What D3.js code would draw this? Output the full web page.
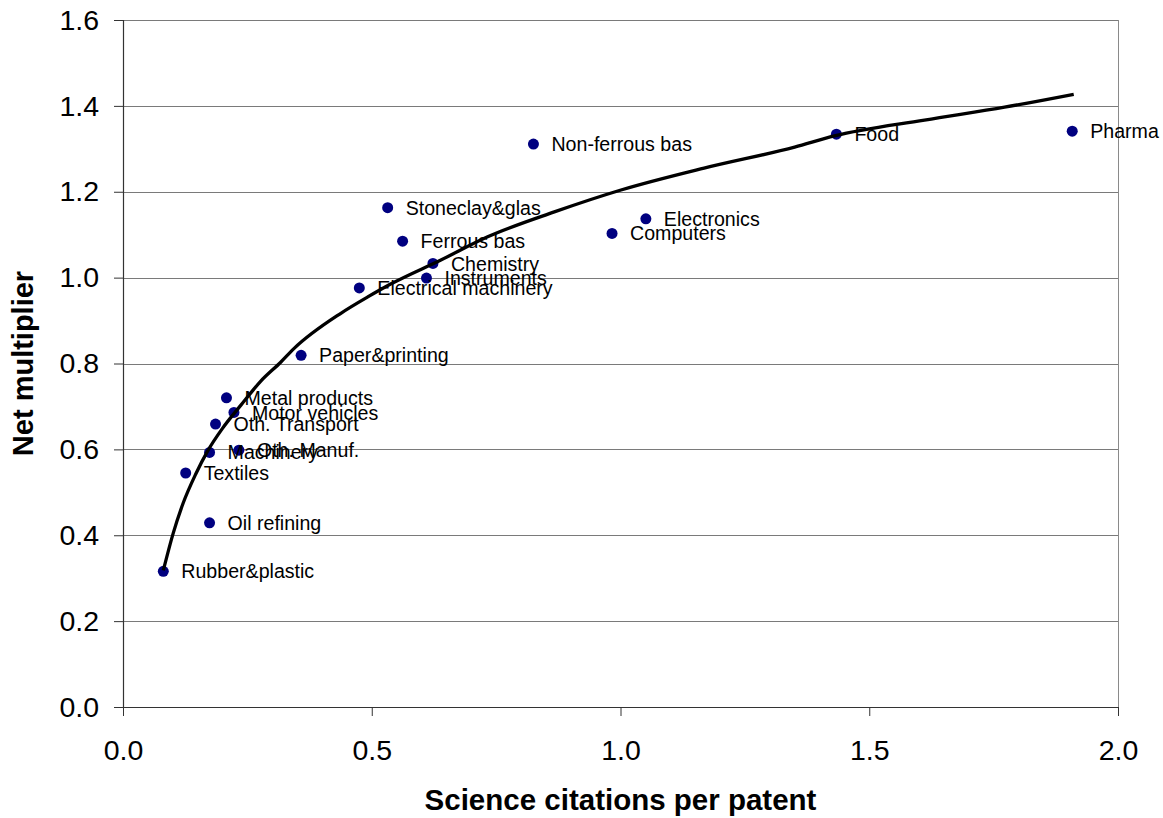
<!DOCTYPE html>
<html>
<head>
<meta charset="utf-8">
<script src="https://cdn.jsdelivr.net/npm/d3@7"></script>
<style>
  html, body { margin: 0; padding: 0; background: #fff; }
  svg { display: block; }
  text { font-family: "Liberation Sans", Arial, Helvetica, sans-serif; }
</style>
</head>
<body>
<svg id="chart" width="1163" height="818"></svg>
<script>
// ---- Data ----
const industries = ["Rubber&plastic","Oil refining","Textiles","Machinery","Oth. Manuf.","Oth. Transport","Motor vehicles","Metal products","Paper&printing","Electrical machinery","Instruments","Chemistry","Ferrous bas","Stoneclay&glas","Non-ferrous bas","Computers","Electronics","Food","Pharma"];
const citations = [0.081, 0.174, 0.126, 0.174, 0.233, 0.186, 0.223, 0.208, 0.358, 0.475, 0.610, 0.623, 0.562, 0.532, 0.825, 0.983, 1.051, 1.434, 1.908];
const multiplier = [0.316, 0.429, 0.545, 0.593, 0.598, 0.659, 0.686, 0.720, 0.819, 0.976, 0.999, 1.033, 1.085, 1.163, 1.311, 1.103, 1.137, 1.334, 1.341];

// trend line
const trendX = [0.081, 0.101, 0.121, 0.146, 0.170, 0.200, 0.237, 0.277, 0.317, 0.343, 0.438, 0.492, 0.538, 0.639, 0.733, 0.867, 1.001, 1.168, 1.350, 1.430, 1.611, 1.772, 1.911];
const trendY = [0.318, 0.405, 0.475, 0.542, 0.596, 0.649, 0.703, 0.759, 0.803, 0.834, 0.917, 0.955, 0.985, 1.041, 1.095, 1.153, 1.204, 1.255, 1.304, 1.330, 1.367, 1.397, 1.427];

const xTicks = [0.0, 0.5, 1.0, 1.5, 2.0];
const yTicks = [0.0, 0.2, 0.4, 0.6, 0.8, 1.0, 1.2, 1.4, 1.6];
const xTitle = "Science citations per patent";
const yTitle = "Net multiplier";

// ---- Layout ----
const W = 1163, H = 818;
const m = { left: 123, top: 20, right: 45, bottom: 111 };
const iw = W - m.left - m.right, ih = H - m.top - m.bottom;

const svg = d3.select("#chart");
const g = svg.append("g").attr("transform", `translate(${m.left},${m.top})`);

const x = d3.scaleLinear().domain([0, 2]).range([0, iw]);
const y = d3.scaleLinear().domain([0, 1.6]).range([ih, 0]);

// gridlines
g.append("g").selectAll("line").data(yTicks.filter(d => d > 0)).join("line")
  .attr("x1", 0).attr("x2", iw)
  .attr("y1", d => Math.round(y(d)) + 0.5).attr("y2", d => Math.round(y(d)) + 0.5)
  .attr("stroke", "#7a7a7a").attr("stroke-width", 1);

// right border
g.append("line").attr("x1", iw + 0.5).attr("x2", iw + 0.5).attr("y1", 0).attr("y2", ih)
  .attr("stroke", "#8a8a8a").attr("stroke-width", 1);

// axes
const xAxis = d3.axisBottom(x).tickValues(xTicks).tickFormat(d3.format(".1f")).tickSize(9).tickPadding(24);
const yAxis = d3.axisLeft(y).tickValues(yTicks).tickFormat(d3.format(".1f")).tickSize(9).tickPadding(15);

const gx = g.append("g").attr("transform", `translate(0,${ih})`).call(xAxis);
const gy = g.append("g").call(yAxis);
[gx, gy].forEach(a => {
  a.select(".domain").attr("stroke", "#333").attr("stroke-width", 1.2);
  a.selectAll(".tick line").attr("stroke", "#333");
  a.selectAll(".tick text").attr("fill", "#000").style("font-size", "28.5px")
    .style("font-family", '"Liberation Sans", Arial, sans-serif');
});
gx.select(".domain").attr("d", `M0,0.5H${iw}`);

// points
const pts = industries.map((n, i) => ({ name: n, x: citations[i], y: multiplier[i] }));
g.append("g").selectAll("circle").data(pts).join("circle")
  .attr("cx", d => x(d.x)).attr("cy", d => y(d.y)).attr("r", 5.5)
  .attr("fill", "#000080");

// trend line
const trend = trendX.map((v, i) => [v, trendY[i]]);
g.append("path").datum(trend)
  .attr("d", d3.line().x(d => x(d[0])).y(d => y(d[1])).curve(d3.curveMonotoneX))
  .attr("fill", "none").attr("stroke", "#000").attr("stroke-width", 3.3);

// labels
g.append("g").selectAll("text").data(pts).join("text")
  .attr("x", d => x(d.x) + 18).attr("y", d => y(d.y)).attr("dy", "0.36em")
  .style("font-size", "19.6px").attr("fill", "#000")
  .text(d => d.name);

// axis titles
svg.append("text").attr("x", m.left + x(1)).attr("y", 810)
  .attr("text-anchor", "middle").style("font-size", "29.5px").style("font-weight", "bold")
  .text(xTitle);
svg.append("text").attr("transform", `translate(33,${m.top + ih / 2}) rotate(-90)`)
  .attr("text-anchor", "middle").style("font-size", "29px").style("font-weight", "bold")
  .text(yTitle);
</script>
</body>
</html>
